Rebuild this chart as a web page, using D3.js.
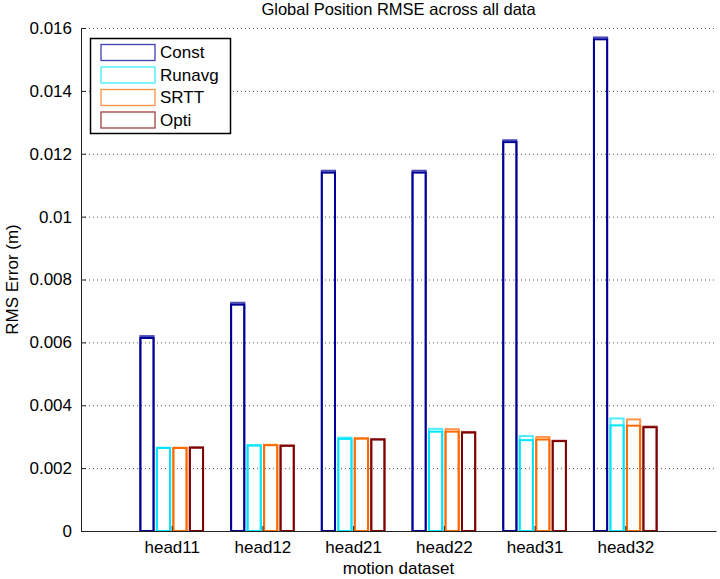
<!DOCTYPE html>
<html><head><meta charset="utf-8">
<script src="https://cdn.jsdelivr.net/npm/d3@7"></script>
<style>body{margin:0;background:#fff;} svg{display:block;} text{font-family:"Liberation Sans",Arial,sans-serif;fill:#000;}</style>
</head><body>
<svg id="c" width="720" height="579"></svg>
<script>
const categories = ["head11","head12","head21","head22","head31","head32"];
const seriesNames = ["Const","Runavg","SRTT","Opti"];
const seriesColors = ["#000096","#00e5ff","#ff6a00","#800000"];
// upper (outer) and lower (inner) bar values per series
const constUpper  = [0.00620,0.00726,0.01146,0.01146,0.01243,0.01570];
const constLower  = [0.00614,0.00720,0.01140,0.01140,0.01237,0.01564];
const runavgUpper = [0.00265,0.00273,0.00297,0.00325,0.00302,0.00358];
const runavgLower = [0.00264,0.00272,0.00293,0.00316,0.00289,0.00336];
const srttUpper   = [0.00265,0.00274,0.00295,0.00324,0.00299,0.00355];
const srttLower   = [0.00264,0.00273,0.00294,0.00316,0.00291,0.00335];
const optiUpper   = [0.00266,0.00272,0.00292,0.00315,0.00287,0.00332];
const optiLower   = [0.00265,0.00271,0.00291,0.00313,0.00286,0.00330];
const yTicks = [0,0.002,0.004,0.006,0.008,0.01,0.012,0.014,0.016];
const yTickLabels = ["0","0.002","0.004","0.006","0.008","0.01","0.012","0.014","0.016"];
const titleText = "Global Position RMSE across all data";
const xLabel = "motion dataset";
const yLabel = "RMS Error (m)";

const uppers = [constUpper, runavgUpper, srttUpper, optiUpper];
const lowers = [constLower, runavgLower, srttLower, optiLower];

const svg = d3.select("#c");
const L = 81, R = 716, T = 28, B = 531;
const x = d3.scaleLinear().domain([0,7]).range([L,R]);
const y = d3.scaleLinear().domain([0,0.016]).range([B,T]);
const pitch = (4/5.5)/4, bw = pitch*0.8;

// grid
svg.append("g").selectAll("line").data(yTicks.filter(d=>d>0)).join("line")
  .attr("x1",L).attr("x2",R).attr("y1",d=>y(d)+0.5).attr("y2",d=>y(d)+0.5)
  .attr("stroke","#555").attr("stroke-width",1).attr("stroke-dasharray","1,3");

// bars
const g = svg.append("g");
seriesNames.forEach((s,j)=>{
  const off = (j-1.5)*pitch;
  [[uppers[j],0.7],[lowers[j],1]].forEach(([vals,op])=>{
    g.append("g").selectAll("rect").data(vals).join("rect")
      .attr("x",(d,i)=>x(i+1+off-bw/2))
      .attr("width",x(bw)-x(0))
      .attr("y",d=>y(d))
      .attr("height",d=>y(0)-y(d))
      .attr("fill","none")
      .attr("stroke",seriesColors[j])
      .attr("stroke-opacity",op)
      .attr("stroke-width",2);
  });
});

// axes
const ya = svg.append("g").attr("transform",`translate(${L},0)`)
  .call(d3.axisLeft(y).tickValues(yTicks).tickFormat((d,i)=>yTickLabels[i]).tickSizeInner(-5).tickSizeOuter(0).tickPadding(9));
ya.select(".domain").attr("stroke","#222");
ya.selectAll(".tick line").attr("stroke","#222");
ya.selectAll("text").attr("font-size","17px").attr("fill","#000");

const xa = svg.append("g").attr("transform",`translate(0,${B})`)
  .call(d3.axisBottom(x).tickValues(categories.map((c,i)=>i+1)).tickFormat((d,i)=>categories[i]).tickSizeInner(-5).tickSizeOuter(0).tickPadding(10));
xa.select(".domain").attr("stroke","#222");
xa.selectAll(".tick line").attr("stroke","#222");
xa.selectAll("text").attr("font-size","17px").attr("fill","#000");

// labels
svg.append("text").attr("x",(L+R)/2).attr("y",15).attr("text-anchor","middle").attr("font-size","16.5px").text(titleText);
svg.append("text").attr("x",(L+R)/2).attr("y",574).attr("text-anchor","middle").attr("font-size","17px").text(xLabel);
svg.append("text").attr("transform",`translate(18,${(T+B)/2}) rotate(-90)`).attr("text-anchor","middle").attr("font-size","17px").text(yLabel);

// legend
const lg = svg.append("g");
lg.append("rect").attr("x",90.5).attr("y",38.5).attr("width",140).attr("height",95).attr("fill","#fff").attr("stroke","#000").attr("stroke-width",1.5);
seriesNames.forEach((s,j)=>{
  const yy = 44 + j*22.5;
  lg.append("rect").attr("x",101).attr("y",yy+0.5).attr("width",54).attr("height",16)
    .attr("fill","none").attr("stroke",seriesColors[j]).attr("stroke-opacity",0.75).attr("stroke-width",1.3);
  lg.append("text").attr("x",160).attr("y",yy+14).attr("font-size","17px").text(s);
});
</script>
</body></html>
